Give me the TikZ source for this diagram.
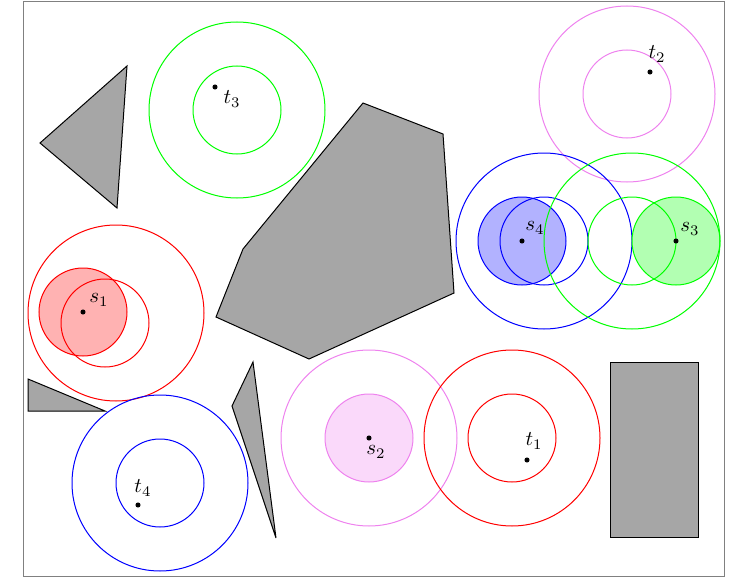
\documentclass[tikz,border=0pt]{standalone}
\usepackage{amsmath,amssymb}
\usepackage{graphicx}
\usepackage{tikz}
\definecolor{webviolet}{RGB}{238,130,238}
\newcommand{\lab}[1]{\scalebox{2.1}{$#1$}}

\begin{document}
\begin{tikzpicture}[x=1pt,y=-1pt,line width=1pt,
        lbl/.style={inner sep=0pt}]
        \useasboundingbox (0,0) rectangle (747,578);
        \draw[gray,line width=0.6pt] (23,1) rectangle (724,576);

        % obstacles
        \draw[fill=black!35] (40,143) -- (127,66) -- (117,208) -- cycle;
        \draw[fill=black!35] (363,103) -- (443,134) -- (454,293) -- (309,359) -- (216,317) -- (243,249) -- cycle;
        \draw[fill=black!35] (28,379) -- (28,411) -- (105,411) -- cycle;
        \draw[fill=black!35] (253,362) -- (232,406) -- (276,538) -- cycle;
        \draw[fill=black!35] (610,362) rectangle (698,537);

        % balls
        \draw[green] (237,110) circle (88pt) (237,110) circle (44pt);
        \draw[red, fill=red!30] (83,312) circle (44pt);
        \draw[red] (116,313) circle (88pt) (105,323) circle (44pt);
        \draw[blue] (160,483) circle (88pt) (160,483) circle (44pt);
        \draw[webviolet, fill=webviolet!30] (369,438) circle (44pt);
        \draw[webviolet] (369,438) circle (88pt);
        \draw[red] (512,438) circle (88pt) (512,438) circle (44pt);
        \draw[webviolet] (627,94) circle (88pt) (627,94) circle (44pt);
        \draw[blue, fill=blue!30] (522,241) circle (44pt);
        \draw[blue] (544,241) circle (88pt) (544,241) circle (44pt);
        \draw[green, fill=green!30] (676,241) circle (44pt);
        \draw[green] (632,241) circle (88pt) (632,241) circle (44pt);

        % points
        \draw[fill] (215,87) circle (2pt);   \node[lbl] (t3) at (232,99) {\lab{t_3}};
        \draw[fill] (83,312) circle (2pt);   \node[lbl] (s1) at (99,300) {\lab{s_1}};
        \draw[fill] (138,505) circle (2pt);  \node[lbl] (t4) at (143,488) {\lab{t_4}};
        \draw[fill] (369,438) circle (2pt);  \node[lbl] (s2) at (376,452) {\lab{s_2}};
        \draw[fill] (527,460) circle (2pt);  \node[lbl] (t1) at (534,441) {\lab{t_1}};
        \draw[fill] (650,72) circle (2pt);   \node[lbl] (t2) at (657,54) {\lab{t_2}};
        \draw[fill] (522,241) circle (2pt);  \node[lbl] (s4) at (535,228) {\lab{s_4}};
        \draw[fill] (676,241) circle (2pt);  \node[lbl] (s3) at (690,229) {\lab{s_3}};
\end{tikzpicture}
\end{document}
